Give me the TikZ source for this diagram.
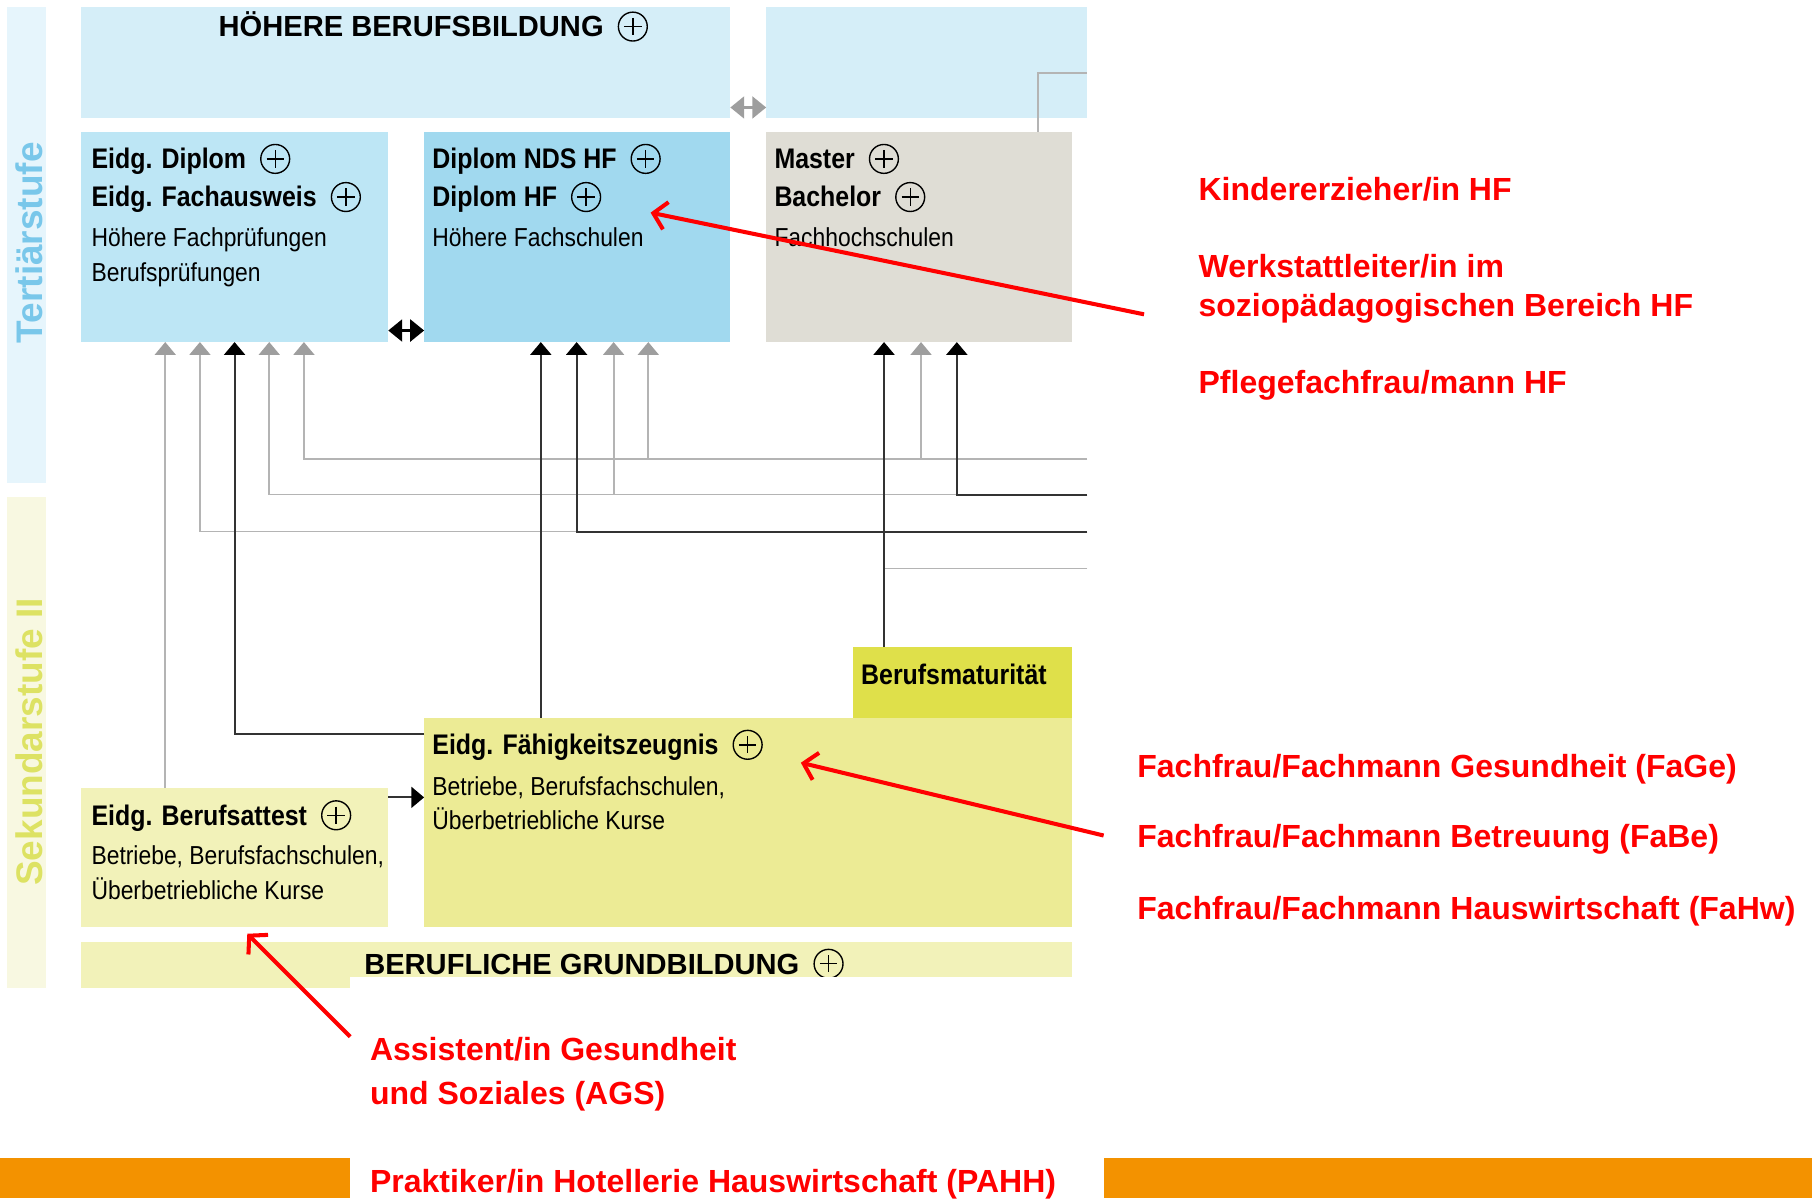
\documentclass[tikz,border=0pt]{standalone}
\usepackage{fontspec}
\setmainfont{Liberation Sans}
\newfontfamily\cf[FakeStretch=0.88]{Liberation Sans}
\usetikzlibrary{arrows.meta,calc}
\definecolor{stripblue}{HTML}{E6F5FC}
\definecolor{stripyel}{HTML}{F8F8E1}
\definecolor{tertxt}{HTML}{79C7EA}
\definecolor{sektxt}{HTML}{DDE263}
\definecolor{ctop}{HTML}{D5EEF8}
\definecolor{cdip}{HTML}{BDE6F5}
\definecolor{chf}{HTML}{A1D9EF}
\definecolor{cma}{HTML}{DFDDD5}
\definecolor{cbm}{HTML}{DFE04A}
\definecolor{cfz}{HTML}{ECEB95}
\definecolor{cba}{HTML}{F2F2B9}
\definecolor{lgray}{HTML}{B4B4B4}
\definecolor{agray}{HTML}{9E9E9E}
\definecolor{lblack}{HTML}{333333}
\definecolor{annred}{HTML}{FF0000}
\definecolor{orangebar}{HTML}{F39200}
\begin{document}
\begin{tikzpicture}[x=1pt,y=-1pt,
  box/.style={rectangle,inner sep=0pt,outer sep=0pt,anchor=north west,draw=none},
  bt/.style={anchor=base west,inner sep=0pt,font=\cf\bfseries\fontsize{24.5}{29}\selectfont},
  rt/.style={anchor=base west,inner sep=0pt,font=\cf\fontsize{22.5}{27}\selectfont},
  ht/.style={anchor=base west,inner sep=0pt,font=\bfseries\fontsize{25.2}{30}\selectfont},
  redt/.style={anchor=base west,inner sep=0pt,text=annred,font=\bfseries\fontsize{27.7}{32}\selectfont},
  sidet/.style={anchor=base,inner sep=0pt,rotate=90,font=\bfseries\fontsize{32}{36}\selectfont},
  pl/.style={circle,draw,line width=1.2pt,minimum size=25pt,inner sep=0pt,
    path picture={\draw[line width=1.2pt]
      ([xshift=5pt]path picture bounding box.west) -- ([xshift=-5pt]path picture bounding box.east)
      ([yshift=-5pt]path picture bounding box.north) -- ([yshift=5pt]path picture bounding box.south);}},
  gl/.style={draw=lgray,line width=1.5pt},
  ga/.style={gl,-{Triangle[width=18pt,length=11pt,color=agray]}},
  bl/.style={draw=lblack,line width=1.8pt},
  ba/.style={bl,-{Triangle[width=18pt,length=11pt,color=black]}},
  dbl/.style={line width=2pt,{Triangle[width=19pt,length=12pt]}-{Triangle[width=19pt,length=12pt]}},
  rarrow/.style={draw=annred,line width=3.5pt,-{Straight Barb[length=11pt,width=24pt]}}]
\useasboundingbox (0,0) rectangle (1568,1037);

% side strips
\node[box,fill=stripblue,minimum width=34pt,minimum height=412pt] (st1) at (6,6) {};
\node[box,fill=stripyel,minimum width=34pt,minimum height=425pt] (st2) at (6,430) {};
\node[sidet,text=tertxt] (lt) at (37,210) {Tertiärstufe};
\node[sidet,text=sektxt] (ls) at (37,642) {Sekundarstufe II};

% boxes
\node[box,fill=ctop,minimum width=562pt,minimum height=96pt] (top) at (70,6) {};
\node[box,fill=ctop,minimum width=278pt,minimum height=96pt] (topr) at (663,6) {};
\node[box,fill=cdip,minimum width=266pt,minimum height=182pt] (dip) at (70,114) {};
\node[box,fill=chf,minimum width=265pt,minimum height=182pt] (hf) at (367,114) {};
\node[box,fill=cma,minimum width=265pt,minimum height=182pt] (ma) at (663,114) {};
\node[box,fill=cbm,minimum width=190pt,minimum height=61pt] (bm) at (738,560) {};
\node[box,fill=cfz,minimum width=561pt,minimum height=181pt] (fz) at (367,621) {};
\node[box,fill=cba,minimum width=266pt,minimum height=120pt] (ba) at (70,682) {};
\fill[cba] (70,815) -- (928,815) -- (928,855) -- (70,855) -- cycle;

% texts
\node[ht] (t0) at (189,32) {HÖHERE BERUFSBILDUNG};
\node[pl] (p0) at ([xshift=25pt,yshift=9pt]t0.base east) {};

\node[bt] (t1) at (79,146) {Eidg. Diplom};
\node[pl] (p1) at ([xshift=25pt,yshift=8.5pt]t1.base east) {};
\node[bt] (t2) at (79,179) {Eidg. Fachausweis};
\node[pl] (p2) at ([xshift=25pt,yshift=8.5pt]t2.base east) {};
\node[rt] (t3) at (79,213) {Höhere Fachprüfungen};
\node[rt] (t4) at (79,244) {Berufsprüfungen};

\node[bt] (t5) at (374,146) {Diplom NDS HF};
\node[pl] (p5) at ([xshift=25pt,yshift=8.5pt]t5.base east) {};
\node[bt] (t6) at (374,179) {Diplom HF};
\node[pl] (p6) at ([xshift=25pt,yshift=8.5pt]t6.base east) {};
\node[rt] (t7) at (374,213) {Höhere Fachschulen};

\node[bt] (t8) at (670,146) {Master};
\node[pl] (p8) at ([xshift=25pt,yshift=8.5pt]t8.base east) {};
\node[bt] (t9) at (670,179) {Bachelor};
\node[pl] (p9) at ([xshift=25pt,yshift=8.5pt]t9.base east) {};
\node[rt] (t10) at (670,213) {Fachhochschulen};

\node[bt] (t11) at (745,592) {Berufsmaturität};

\node[bt] (t12) at (374,653) {Eidg. Fähigkeitszeugnis};
\node[pl] (p12) at ([xshift=25pt,yshift=8.5pt]t12.base east) {};
\node[rt] (t13) at (374,688) {Betriebe, Berufsfachschulen,};
\node[rt] (t14) at (374,718) {Überbetriebliche Kurse};

\node[bt] (t15) at (79,714) {Eidg. Berufsattest};
\node[pl] (p15) at ([xshift=25pt,yshift=8.5pt]t15.base east) {};
\node[rt] (t16) at (79,748) {Betriebe, Berufsfachschulen,};
\node[rt] (t17) at (79,778) {Überbetriebliche Kurse};

\node[ht] (t18) at (315,843) {BERUFLICHE GRUNDBILDUNG};
\node[pl] (p18) at ([xshift=25pt,yshift=9pt]t18.base east) {};
\fill[white] (303,845) rectangle (935,862);

% connector end points
\coordinate (d1) at ([xshift=73pt]dip.south west);
\coordinate (d2) at ([xshift=103pt]dip.south west);
\coordinate (d3) at ([xshift=133pt]dip.south west);
\coordinate (d4) at ([xshift=163pt]dip.south west);
\coordinate (d5) at ([xshift=193pt]dip.south west);
\coordinate (h1) at ([xshift=101pt]hf.south west);
\coordinate (h2) at ([xshift=132pt]hf.south west);
\coordinate (h3) at ([xshift=164pt]hf.south west);
\coordinate (h4) at ([xshift=194pt]hf.south west);
\coordinate (m1) at ([xshift=102pt]ma.south west);
\coordinate (m2) at ([xshift=134pt]ma.south west);
\coordinate (m3) at ([xshift=165pt]ma.south west);
\coordinate (R1) at (941,397);
\coordinate (R2) at (941,428);
\coordinate (R3) at (941,460);
\coordinate (R4) at (941,492);
\coordinate (T1) at ([xshift=235pt]ma.north west);
\coordinate (T2) at (941,63);
\coordinate (F1) at ([yshift=-14pt]fz.north west);
\coordinate (BA) at ([yshift=-8pt]ba.north east);

% gray connectors
\draw[gl] (T1) |- (T2);
\draw[ga] (R1) -| (d5);
\draw[ga] (h4 |- R1) -- (h4);
\draw[ga] (m2 |- R1) -- (m2);
\draw[ga] (m3 |- R2) -| (d4);
\draw[ga] (h3 |- R2) -- (h3);
\draw[ga] (h2 |- R3) -| (d2);
\draw[gl] (R4) -- (m1 |- R4);
\draw[ga] (ba.north -| d1) -- (d1);

% black connectors
\draw[ba] (R2) -| (m3);
\draw[ba] (R3) -| (h2);
\draw[ba] (bm.north -| m1) -- (m1);
\draw[ba] (fz.north -| h1) -- (h1);
\draw[ba] (F1) -| (d3);
\draw[ba] (BA) -- (BA -| fz.west);

% double arrows
\draw[dbl,black] ([yshift=10pt]dip.south east) -- ([yshift=10pt]hf.south west);
\draw[dbl,agray] ([yshift=9pt]top.south east) -- ([yshift=9pt]topr.south west);

% orange bars
\fill[orangebar] (0,1002) rectangle (303,1037);
\fill[orangebar] (955,1002) rectangle (1568,1037);

% red annotations
\node[redt] (r1) at (1037,173.5) {Kindererzieher/in HF};
\node[redt] (r2) at (1037,240.5) {Werkstattleiter/in im};
\node[redt] (r3) at (1037,273.5) {soziopädagogischen Bereich HF};
\node[redt] (r4) at (1037,340.5) {Pflegefachfrau/mann HF};
\node[redt] (r5) at (984,672.5) {Fachfrau/Fachmann Gesundheit (FaGe)};
\node[redt] (r6) at (984,733.5) {Fachfrau/Fachmann Betreuung (FaBe)};
\node[redt] (r7) at (984,795.5) {Fachfrau/Fachmann Hauswirtschaft (FaHw)};
\node[redt] (r8) at (320,917.5) {Assistent/in Gesundheit};
\node[redt] (r9) at (320,955.5) {und Soziales (AGS)};
\node[redt] (r10) at (320,1031.5) {Praktiker/in Hotellerie Hauswirtschaft (PAHH)};

\coordinate (A1s) at (990,272);
\coordinate (A1e) at (563,184);
\coordinate (A2s) at (955,723);
\coordinate (A2e) at (693,660);
\coordinate (A3s) at (303,897);
\coordinate (A3e) at (214,808);
\draw[rarrow] (A1s) -- (A1e);
\draw[rarrow] (A2s) -- (A2e);
\draw[rarrow] (A3s) -- (A3e);
\end{tikzpicture}
\end{document}
